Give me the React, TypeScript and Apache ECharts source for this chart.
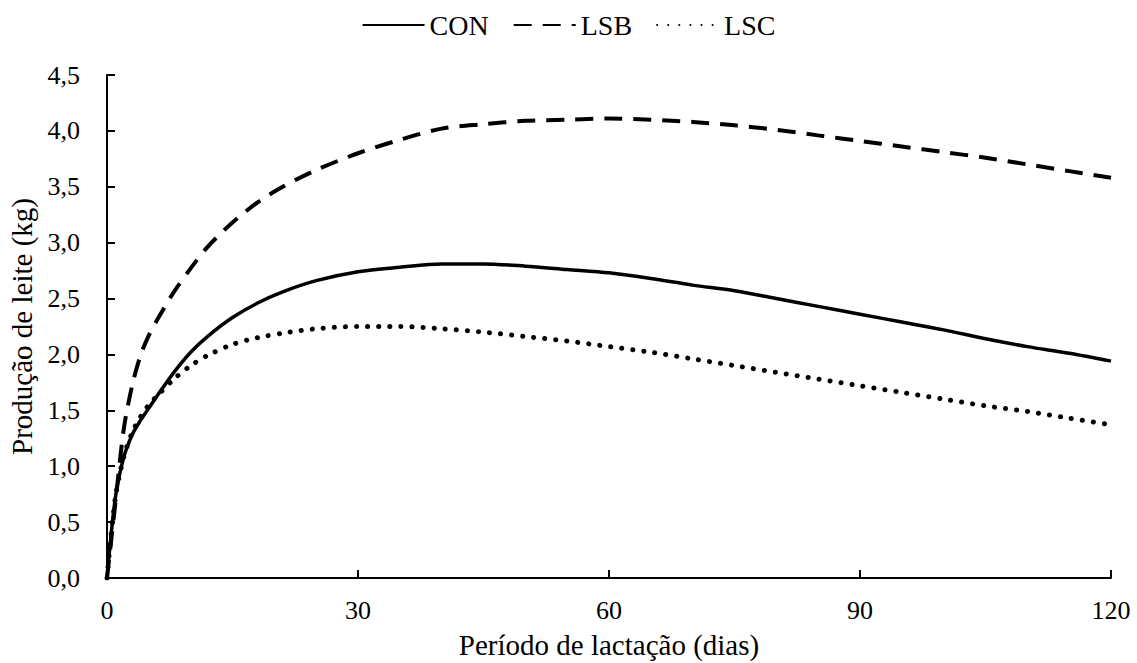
import React, { useEffect, useRef } from "react";
import * as echarts from "echarts";

const days = [0, 1, 2, 3, 4, 5, 6, 8, 10, 12, 15, 18, 21, 25, 30, 35, 40, 45, 50, 55, 60, 65, 70, 75, 80, 85, 90, 95, 100, 105, 110, 115, 120];
const conValues = [0, 0.72, 1.08, 1.28, 1.41, 1.52, 1.63, 1.84, 2.02, 2.16, 2.33, 2.46, 2.56, 2.66, 2.74, 2.78, 2.81, 2.81, 2.79, 2.76, 2.73, 2.68, 2.62, 2.57, 2.5, 2.43, 2.36, 2.29, 2.22, 2.14, 2.07, 2.01, 1.94];
const lsbValues = [0, 0.67, 1.33, 1.72, 1.99, 2.17, 2.31, 2.56, 2.77, 2.96, 3.18, 3.36, 3.5, 3.65, 3.8, 3.92, 4.02, 4.06, 4.09, 4.1, 4.11, 4.1, 4.08, 4.05, 4.01, 3.96, 3.91, 3.86, 3.81, 3.76, 3.7, 3.64, 3.58];
const lscValues = [0, 0.72, 1.08, 1.3, 1.44, 1.55, 1.63, 1.78, 1.9, 1.99, 2.09, 2.15, 2.19, 2.23, 2.25, 2.25, 2.23, 2.2, 2.16, 2.12, 2.07, 2.02, 1.96, 1.9, 1.84, 1.78, 1.72, 1.66, 1.6, 1.54, 1.49, 1.43, 1.37];
const seriesNames = ["CON", "LSB", "LSC"];
const xTitle = "Período de lactação (dias)";
const yTitle = "Produção de leite (kg)";

const FONT = "'Liberation Serif', 'Times New Roman', serif";

export default function App() {
  const ref = useRef<HTMLDivElement>(null);
  useEffect(() => {
    if (!ref.current) return;
    const chart = echarts.init(ref.current, undefined, { renderer: "svg" });
    const pair = (vals: number[]) => days.map((d, i) => [d, vals[i]]);
    chart.setOption({
      animation: false,
      backgroundColor: "#ffffff",
      textStyle: { fontFamily: FONT, color: "#000" },
      legend: {
        top: 6,
        left: "center",
        itemWidth: 62,
        itemHeight: 14,
        itemGap: 24,
        itemStyle: { opacity: 0 },
        textStyle: { fontFamily: FONT, fontSize: 28, color: "#000" },
        data: seriesNames,
      },
      grid: { left: 107, right: 26, top: 75, bottom: 85, containLabel: false, outerBoundsMode: "none" },
      xAxis: {
        type: "value",
        min: 0,
        max: 120,
        interval: 30,
        name: xTitle,
        nameLocation: "middle",
        nameGap: 52,
        nameTextStyle: { fontFamily: FONT, fontSize: 29, color: "#000" },
        axisLine: { lineStyle: { color: "#000", width: 2 } },
        axisTick: { inside: true, length: 8, lineStyle: { color: "#000", width: 2 } },
        axisLabel: { fontFamily: FONT, fontSize: 26, color: "#000", margin: 19 },
        splitLine: { show: false },
      },
      yAxis: {
        type: "value",
        min: 0,
        max: 4.5,
        interval: 0.5,
        name: yTitle,
        nameLocation: "middle",
        nameGap: 66,
        nameTextStyle: { fontFamily: FONT, fontSize: 29, color: "#000" },
        axisLine: { show: true, lineStyle: { color: "#000", width: 2 } },
        axisTick: { show: true, inside: true, length: 8, lineStyle: { color: "#000", width: 2 } },
        axisLabel: {
          fontFamily: FONT,
          fontSize: 26,
          color: "#000",
          margin: 27,
          formatter: (v: number) => v.toFixed(1).replace(".", ","),
        },
        splitLine: { show: false },
      },
      series: [
        {
          name: seriesNames[0],
          type: "line",
          data: pair(conValues),
          symbol: "none",
          smooth: 0.3,
          lineStyle: { color: "#000", width: 3.5, type: "solid" },
          itemStyle: { color: "#000" },
        },
        {
          name: seriesNames[1],
          type: "line",
          data: pair(lsbValues),
          symbol: "none",
          smooth: 0.3,
          lineStyle: { color: "#000", width: 4, type: [18, 11] },
          itemStyle: { color: "#000" },
        },
        {
          name: seriesNames[2],
          type: "line",
          data: pair(lscValues),
          symbol: "none",
          smooth: 0.3,
          lineStyle: { color: "#000", width: 5, type: [0.1, 11], cap: "round" },
          itemStyle: { color: "#000" },
        },
      ],
    });
    return () => chart.dispose();
  }, []);
  return (
    <div
      ref={ref}
      style={{ position: "fixed", left: 0, top: 0, width: 1137, height: 663, background: "#fff" }}
    />
  );
}
